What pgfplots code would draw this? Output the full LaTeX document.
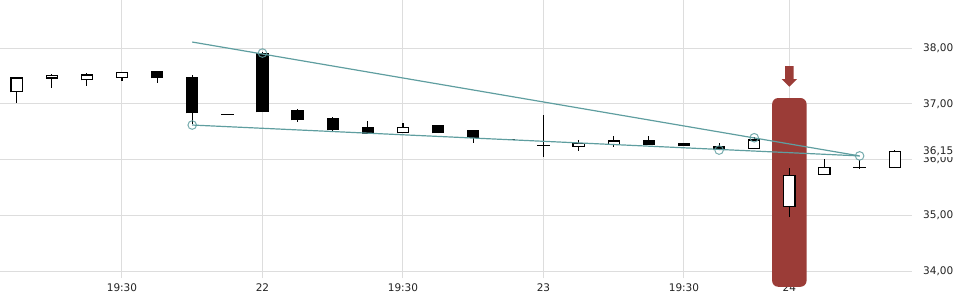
\documentclass[border=0pt]{standalone}
\usepackage{pgfplots}
\pgfplotsset{compat=1.18}
\usepackage{pgfplotstable}
\usepackage{fontspec}
\setmainfont{DejaVu Sans}
\definecolor{gridc}{RGB}{221,221,221}
\definecolor{trend}{RGB}{95,158,160}
\definecolor{hl}{RGB}{155,60,55}
\definecolor{txt}{RGB}{34,34,34}

% white (rising) candles
\pgfplotstableread{
x open high low close
0 37.216 37.485 37.019 37.462
1 37.462 37.534 37.288 37.503
2 37.431 37.552 37.324 37.516
3 37.474 37.564 37.413 37.564
11 36.481 36.655 36.481 36.578
16 36.237 36.350 36.158 36.291
17 36.273 36.422 36.230 36.332
21 36.201 36.404 36.201 36.350
22 35.161 35.848 34.974 35.717
23 35.735 36.009 35.735 35.860
25 35.860 36.165 35.860 36.147
}\upc

% black (falling) candles and dojis
\pgfplotstableread{
x open high low close
4 37.570 37.570 37.378 37.467
5 37.462 37.516 36.631 36.839
6 36.811 36.811 36.811 36.811
7 37.892 37.934 36.857 36.857
8 36.870 36.906 36.678 36.714
9 36.726 36.762 36.493 36.535
10 36.565 36.691 36.475 36.475
12 36.601 36.619 36.481 36.481
13 36.511 36.511 36.301 36.391
14 36.362 36.362 36.362 36.362
15 36.255 36.798 36.050 36.255
18 36.332 36.422 36.273 36.273
19 36.278 36.296 36.255 36.255
20 36.237 36.291 36.176 36.176
24 35.860 35.991 35.835 35.860
}\downc

\pgfplotsset{candle/.style={only marks, mark=*, mark size=0pt,
  mark options={draw=none, fill=none},
  error bars/.cd, y dir=plus, y explicit, error mark=none}}

\begin{document}
\begin{tikzpicture}
\useasboundingbox (0,0) rectangle (960pt,300pt);
\begin{axis}[
  at={(0pt,22pt)}, anchor=south west,
  scale only axis, width=912pt, height=278pt,
  xmin=-0.4726, xmax=25.492, ymin=33.8744, ymax=38.861,
  axis line style={draw=none},
  tick style={draw=none},
  xtick={3,7,11,15,19,22},
  xticklabels={19:30,22,19:30,23,19:30,24},
  ytick={34,35,36,37,38},
  yticklabels={34{,}00,35{,}00,36{,}00,37{,}00,38{,}00},
  yticklabel pos=right,
  grid=major, major grid style={gridc, line width=1pt},
  ticklabel style={font=\fontsize{10.5}{12}\selectfont, text=txt},
  yticklabel style={anchor=west, inner sep=0pt, xshift=11pt},
  xticklabel style={anchor=north, inner sep=0pt, yshift=-5pt},
  clip=false,
]
% highlight bar and arrow
\addplot[draw=none, fill=hl, rounded corners=6pt] coordinates {(21.51,33.718) (22.49,33.718) (22.49,37.103) (21.51,37.103)} -- cycle;
\addplot[draw=none, fill=hl] coordinates {(21.88,37.677) (22.12,37.677) (22.12,37.444) (22.222,37.444) (22,37.306) (21.778,37.444) (21.88,37.444)} -- cycle;

% wicks
\addplot[candle, error bar style={draw=black, line width=1.2pt}]
  table[x=x, y=low, y error plus expr=\thisrow{high}-\thisrow{low}] {\upc};
\addplot[candle, error bar style={draw=black, line width=1.2pt}]
  table[x=x, y=low, y error plus expr=\thisrow{high}-\thisrow{low}] {\downc};
% bodies
\addplot[candle, error bar style={draw=black, line width=12.4pt}]
  table[x=x, y expr=\thisrow{open}-0.0108, y error plus expr=\thisrow{close}-\thisrow{open}+0.0216] {\upc};
\addplot[candle, error bar style={draw=white, line width=10pt}]
  table[x=x, y expr=\thisrow{open}+0.0108, y error plus expr=\thisrow{close}-\thisrow{open}-0.0216] {\upc};
\addplot[candle, error bar style={draw=black, line width=12.4pt}]
  table[x=x, y expr=\thisrow{close}-0.0108, y error plus expr=\thisrow{open}-\thisrow{close}+0.0216] {\downc};

% trend lines
\addplot[trend, line width=1.2pt] coordinates {(5,38.108) (24,36.065)};
\addplot[trend, line width=1.2pt] coordinates {(5,36.619) (24,36.065)};
\addplot[only marks, mark=o, mark size=4.3pt, mark options={draw=trend, line width=1pt, draw opacity=0.85}]
  coordinates {(5,36.619) (7,37.910) (20,36.170) (21,36.391) (24,36.065)};

% tick dashes
\pgfplotsinvokeforeach{3,7,11,15,19,22}{\draw[txt, line width=1.2pt] (axis cs:#1,33.8744) ++(0,-15pt) -- ++(0,-6pt);}
\pgfplotsinvokeforeach{34,35,36,37,38}{\draw[txt, line width=1.2pt] (axis cs:25.492,#1) ++(1pt,0) -- ++(4pt,0);}
\coordinate (p3615) at (axis cs:25.492,36.15);
\end{axis}
\node[anchor=west, fill=white, inner sep=1pt, xshift=10pt, font=\fontsize{10.5}{12}\selectfont, text=txt] at (p3615) {36,15};
\end{tikzpicture}
\end{document}
